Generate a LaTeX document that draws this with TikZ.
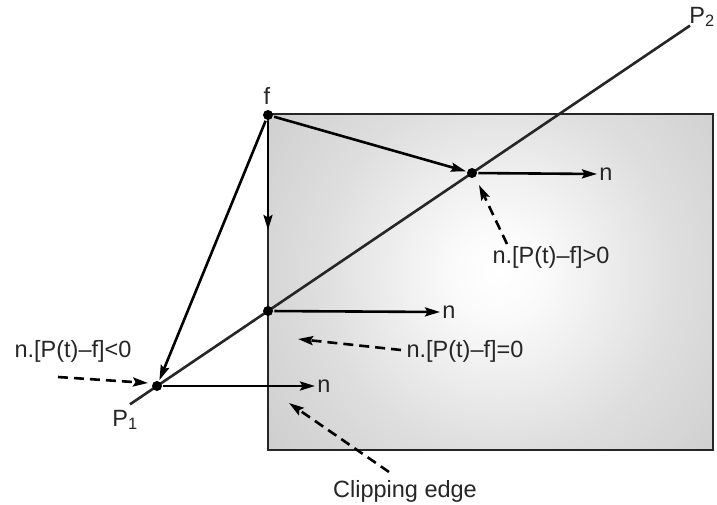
\documentclass[tikz,border=0pt]{standalone}
\usepackage{fontspec}
\setmainfont{Liberation Sans}
\usetikzlibrary{arrows.meta}
\pgfdeclareradialshading{glow}{\pgfpoint{0bp}{0bp}}{color(0bp)=(white); color(4bp)=(black!2); color(15bp)=(black!13); color(30bp)=(black!23); color(40bp)=(black!32); color(50bp)=(black!44)}
\begin{document}
\begin{tikzpicture}[x=1pt,y=-1pt, line width=2.6pt,
  arr/.style={-{Stealth[length=15pt,width=9pt,inset=2.5pt]}},
  dashedarr/.style={arr, dash pattern=on 10pt off 6pt},
  dot/.style={circle, fill=black, inner sep=0pt, minimum size=10pt},
  lbl/.style={font=\fontsize{23.5}{28}\selectfont, inner sep=1pt, text=black!85}]
\useasboundingbox (0,0) rectangle (717,505);
\fill[white] (0,0) rectangle (717,505);
\begin{scope}
  \clip (268,114) rectangle (713,450);
  \shade[shading=glow] (498,273) circle (300pt);
\end{scope}
\draw[black!85] (268,114) rectangle (713,450);
% line P1 -- P2
\coordinate (A) at (130,404.3);
\coordinate (B) at (690,25.6);
\draw[black!85] (A) -- (B);
% points
\node[dot] (P1) at (157,386) {};
\node[dot] (X) at (268,311) {};
\node[dot] (Q) at (472,173) {};
\node[dot] (f) at (268,115) {};
% labels of points
\node[lbl] (fl) at (267,96) {f};
\node[lbl] (p1l) at (125,420) {P\textsubscript{1}};
\node[lbl, anchor=east] (p2l) at (717,17) {P\textsubscript{2}};
% arrows from f
\coordinate (fd) at (268,230);
\draw[arr] (f) -- (fd);
\draw[arr] (f) -- (Q);
\draw[arr] (f) -- (P1);
% normals
\node[lbl, anchor=west] (n1) at (597,174) {n};
\node[lbl, anchor=west] (n2) at (440,312) {n};
\node[lbl, anchor=west] (n3) at (315,386) {n};
\draw[arr] (Q) -- (n1.west);
\draw[arr] (X) -- (n2.west);
\draw[arr] (P1) -- (n3.west);
% conditions
\node[lbl] (gt) at (551,257) {n.[P(t)–f]>0};
\node[lbl] (eq) at (465,351) {n.[P(t)–f]=0};
\node[lbl] (lt) at (73,351) {n.[P(t)–f]<0};
\node[lbl] (ce) at (405,491) {Clipping edge};
\coordinate (gtt) at (507,244);
\coordinate (gth) at (479,185);
\draw[dashedarr] (gtt) -- (gth);
\coordinate (eqt) at (401,350);
\coordinate (eqh) at (298,339);
\draw[dashedarr] (eqt) -- (eqh);
\coordinate (ltt) at (58,377);
\coordinate (lth) at (148,383);
\draw[dashedarr] (ltt) -- (lth);
\coordinate (cet) at (389,472);
\coordinate (ceh) at (289,403);
\draw[dashedarr] (cet) -- (ceh);
\end{tikzpicture}
\end{document}
